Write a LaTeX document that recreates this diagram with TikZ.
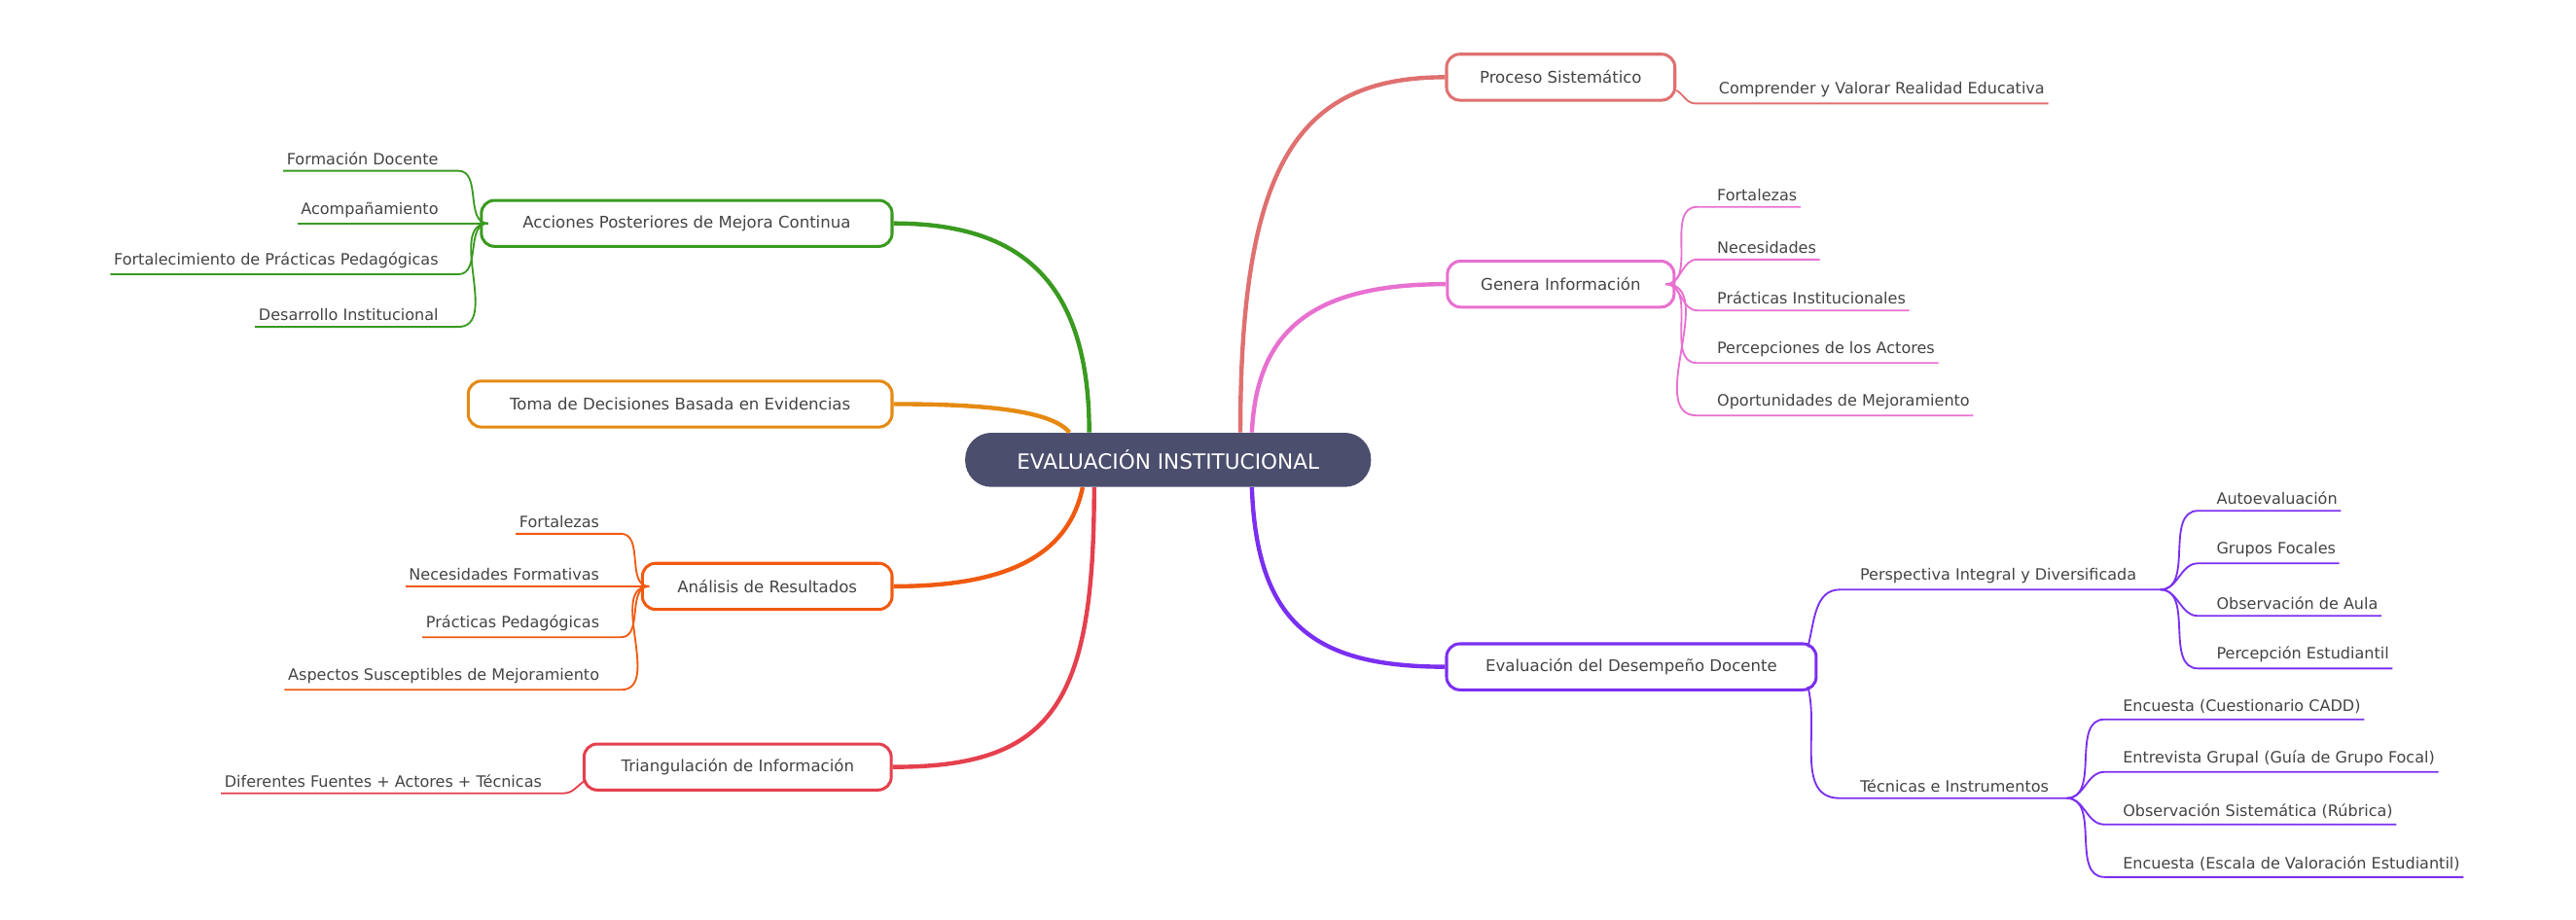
\documentclass[tikz,border=0pt]{standalone}
\usepackage{fontspec}
\setmainfont{DejaVu Sans}
\usetikzlibrary{calc}
\definecolor{cen}{HTML}{4B4E6D}
\definecolor{cpro}{HTML}{E07070}
\definecolor{cgen}{HTML}{E870D0}
\definecolor{ceva}{HTML}{7B2FF0}
\definecolor{cacc}{HTML}{3A9A20}
\definecolor{ctom}{HTML}{E58A12}
\definecolor{cana}{HTML}{F05A10}
\definecolor{ctri}{HTML}{E5404E}
\definecolor{txt}{HTML}{444444}
\begin{document}
\begin{tikzpicture}[x=1pt,y=-1pt,
  box/.style={draw=#1,line width=1.8pt,fill=white,rounded corners=8pt,minimum height=28pt,inner xsep=13pt,text=txt,font=\fontsize{9.8}{11}\selectfont},
  br/.style={draw=#1,line width=2.6pt},
  lk/.style={draw=#1,line width=1.1pt},
  lr/.style={anchor=south west,inner xsep=2pt,inner ysep=3.5pt,text=txt,font=\fontsize{9.5}{11}\selectfont},
  ll/.style={anchor=south east,inner xsep=2pt,inner ysep=3.5pt,text=txt,font=\fontsize{9.5}{11}\selectfont}]
\useasboundingbox (0,0) rectangle (1568,560);
\node[fill=cen,rounded corners=16pt,minimum width=247pt,minimum height=33pt,text=white,font=\fontsize{12.8}{14}\selectfont] (c) at (711,280) {EVALUACIÓN INSTITUCIONAL};

% right boxes
\node[box=cpro,minimum width=139pt] (pro) at (950,47) {Proceso Sistemático};
\node[box=cgen,minimum width=138pt] (gen) at (950,173) {Genera Información};
\node[box=ceva,minimum width=225pt] (eva) at (993,406) {Evaluación del Desempeño Docente};
% left boxes
\node[box=cacc,minimum width=250pt] (acc) at (418,136) {Acciones Posteriores de Mejora Continua};
\node[box=ctom,minimum width=258pt] (tom) at (414,246) {Toma de Decisiones Basada en Evidencias};
\node[box=cana,minimum width=152pt] (ana) at (467,357) {Análisis de Resultados};
\node[box=ctri,minimum width=187pt] (tri) at (449,467) {Triangulación de Información};

% main branches
\draw[br=cpro] ($(c.north)+(44,0)$) .. controls (755,100) and (790,47) .. (pro.west);
\draw[br=cgen] ($(c.north)+(51,0)$) .. controls (765,200) and (800,173) .. (gen.west);
\draw[br=ceva] ($(c.south)+(51,0)$) .. controls (765,380) and (800,406) .. (eva.west);
\draw[br=cacc] ($(c.north)+(-48,0)$) .. controls (663,170) and (620,136) .. (acc.east);
\draw[br=ctom] ($(c.north)+(-60,0)$) .. controls (640,250) and (600,246) .. (tom.east);
\draw[br=cana] ($(c.south)+(-52,0)$) .. controls (650,340) and (610,357) .. (ana.east);
\draw[br=ctri] ($(c.south)+(-45,0)$) .. controls (666,430) and (640,467) .. (tri.east);

% Proceso children
\node[lr] (p1) at (1044,63) {Comprender y Valorar Realidad Educativa};
\draw[lk=cpro] ($(pro.east)+(0,8)$) to[out=-30,in=180] (1032,63) -- (p1.south east);

% Genera children
\foreach \n/\y/\t in {g1/126/Fortalezas,g2/158/Necesidades,g3/189/Prácticas Institucionales,g4/221/Percepciones de los Actores,g5/253/Oportunidades de Mejoramiento}{
  \node[lr] (\n) at (1043,\y) {\t};
  \draw[lk=cgen] ($(gen.east)+(-6,0)$) to[out=0,in=180] (1033,\y) -- (\n.south east);
}

% Evaluacion children
\node[lr] (e1) at (1130,359) {Perspectiva Integral y Diversificada};
\node[lr] (e2) at (1130,486) {Técnicas e Instrumentos};
\draw[lk=ceva] ($(eva.east)+(-6,-12)$) to[out=75,in=180] (1120,359) -- (1315,359);
\draw[lk=ceva] ($(eva.east)+(-6,12)$) to[out=-75,in=180] (1120,486) -- (1258,486);
\foreach \n/\y/\t in {a1/311/Autoevaluación,a2/343/Grupos Focales,a3/375/Observación de Aula,a4/407/Percepción Estudiantil}{
  \node[lr] (\n) at (1347,\y) {\t};
  \draw[lk=ceva] (1315,359) to[out=0,in=180] (1338,\y) -- (\n.south east);
}
\foreach \n/\y/\t in {b1/438/Encuesta (Cuestionario CADD),b2/470/Entrevista Grupal (Guía de Grupo Focal),b3/502/Observación Sistemática (Rúbrica),b4/534/Encuesta (Escala de Valoración Estudiantil)}{
  \node[lr] (\n) at (1290,\y) {\t};
  \draw[lk=ceva] (1258,486) to[out=0,in=180] (1281,\y) -- (\n.south east);
}

% Acciones children
\foreach \n/\y/\t in {c1/104/Formación Docente,c2/136/Acompañamiento,c3/167/Fortalecimiento de Prácticas Pedagógicas,c4/199/Desarrollo Institucional}{
  \node[ll] (\n) at (269,\y) {\t};
  \draw[lk=cacc] ($(acc.west)+(5,0)$) to[out=180,in=0] (279,\y) -- (\n.south west);
}

% Analisis children
\foreach \n/\y/\t in {d1/325/Fortalezas,d2/357/Necesidades Formativas,d3/388/Prácticas Pedagógicas,d4/420/Aspectos Susceptibles de Mejoramiento}{
  \node[ll] (\n) at (367,\y) {\t};
  \draw[lk=cana] ($(ana.west)+(5,0)$) to[out=180,in=0] (378,\y) -- (\n.south west);
}

% Triangulacion child
\node[ll] (t1) at (332,483) {Diferentes Fuentes + Actores + Técnicas};
\draw[lk=ctri] ($(tri.west)+(2,8)$) to[out=210,in=0] (343,483) -- (t1.south west);
\end{tikzpicture}
\end{document}
